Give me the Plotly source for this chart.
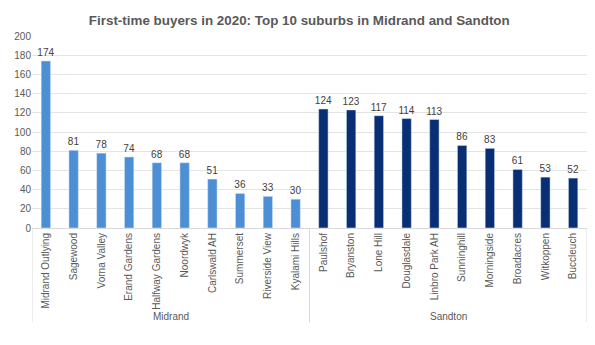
import plotly.graph_objects as go

midrand_names = ["Midrand Outlying", "Sagewood", "Vorna Valley", "Erand Gardens", "Halfway Gardens",
                 "Noordwyk", "Carlswald AH", "Summerset", "Riverside View", "Kyalami Hills"]
midrand_vals = [174, 81, 78, 74, 68, 68, 51, 36, 33, 30]
sandton_names = ["Paulshof", "Bryanston", "Lone Hill", "Douglasdale", "Linbro Park AH",
                 "Sunninghill", "Morningside", "Broadacres", "Witkoppen", "Buccleuch"]
sandton_vals = [124, 123, 117, 114, 113, 86, 83, 61, 53, 52]
groups = ["Midrand", "Sandton"]

title = "First-time buyers in 2020: Top 10 suburbs in Midrand and Sandton"
font = "Liberation Sans, Arial, sans-serif"
all_names = midrand_names + sandton_names

fig = go.Figure()
fig.add_trace(go.Bar(
    x=midrand_names, y=midrand_vals,
    marker_color="#4C8FD5", text=midrand_vals, textposition="outside", constraintext="none",
    textfont=dict(size=10, color="#404040"), cliponaxis=False, name=groups[0]))
fig.add_trace(go.Bar(
    x=sandton_names, y=sandton_vals,
    marker_color="#082F74", text=sandton_vals, textposition="outside", constraintext="none",
    textfont=dict(size=10, color="#404040"), cliponaxis=False, name=groups[1]))

# group dividers and labels
n1 = len(midrand_names)
n = len(all_names)
ybot = -0.49
for xd in [-0.5, n1 - 0.5, n - 0.5]:
    fig.add_shape(type="line", xref="x", yref="paper", x0=xd, x1=xd, y0=0, y1=ybot,
                  line=dict(color="#D9D9D9", width=1))
fig.add_annotation(x=(n1 - 1) / 2, y=-0.46, xref="x", yref="paper", text=groups[0],
                   showarrow=False, font=dict(size=10, color="#595959"), yanchor="middle")
fig.add_annotation(x=n1 + (n - n1 - 1) / 2, y=-0.46, xref="x", yref="paper", text=groups[1],
                   showarrow=False, font=dict(size=10, color="#595959"), yanchor="middle")

fig.update_layout(
    width=595, height=345,
    margin=dict(l=32, r=8, t=36, b=117),
    paper_bgcolor="white", plot_bgcolor="white",
    showlegend=False, barmode="overlay", bargap=0.66,
    font=dict(family=font, color="#595959", size=10),
    title=dict(text="<b>" + title + "</b>", x=0.503, xanchor="center", y=0.94, yanchor="middle",
               font=dict(size=13.4, color="#595959", family=font)),
    xaxis=dict(type="category", categoryorder="array", categoryarray=all_names,
               range=[-0.5, n - 0.5], tickangle=-90, showline=True, linecolor="#D9D9D9",
               ticks="", tickfont=dict(size=10, color="#595959")),
    yaxis=dict(range=[0, 200], dtick=20, showgrid=True, gridcolor="#E4E4E4", zeroline=False,
               tickfont=dict(size=10, color="#595959"), ticks="", ticklen=0),
)

fig.write_html("out.html")
